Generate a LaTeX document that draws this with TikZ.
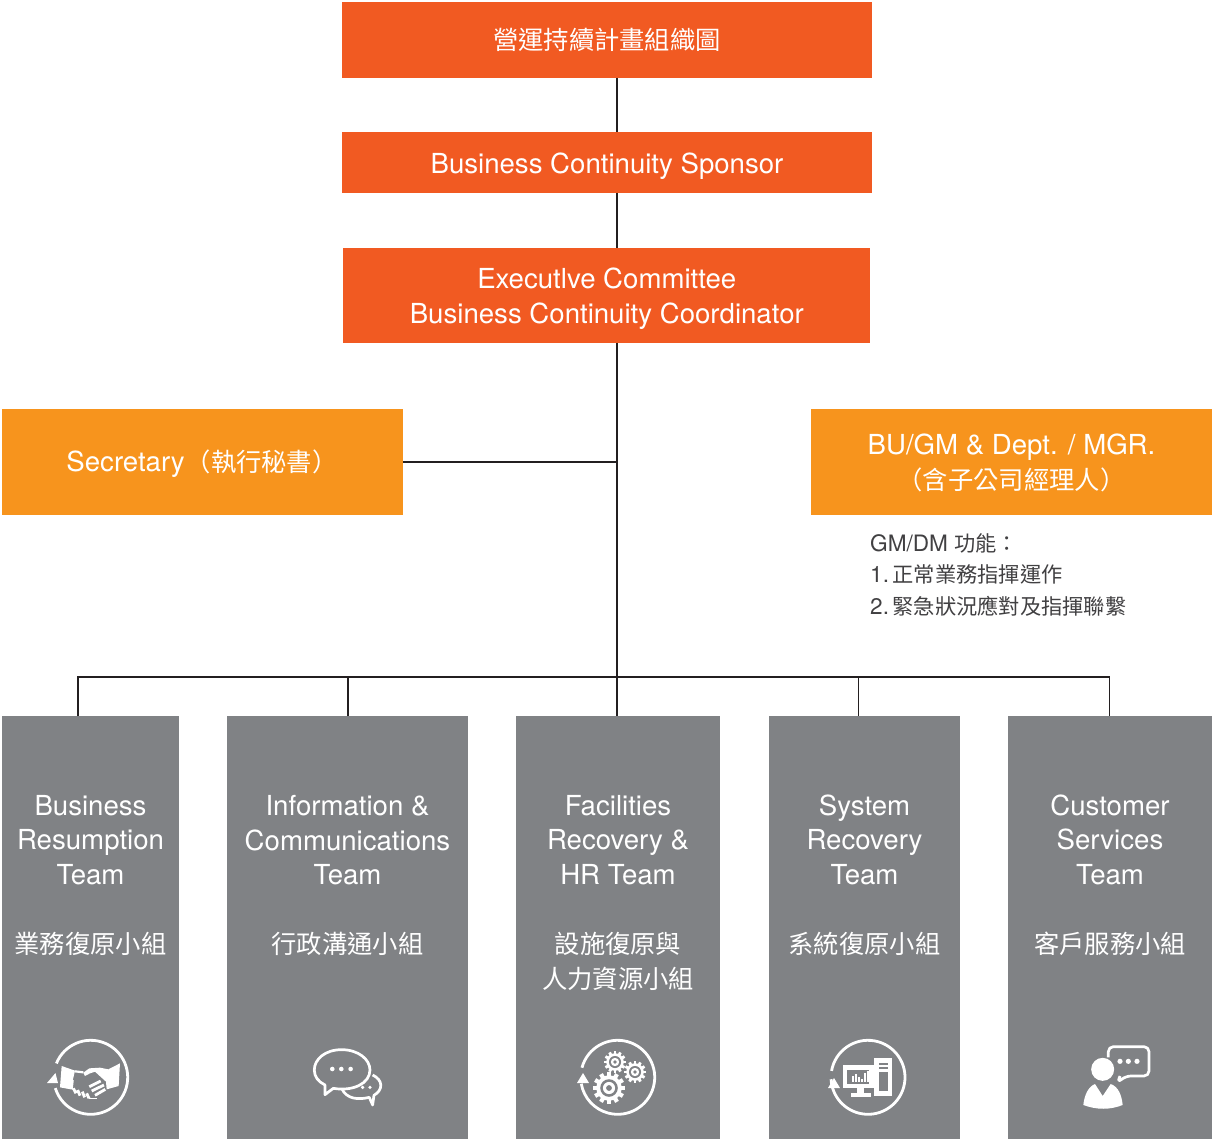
\documentclass[tikz,border=0pt]{standalone}
\usepackage{fontspec}
\setmainfont{TeX Gyre Heros}
\newfontfamily\cjk[Scale=0.917]{Noto Sans CJK TC}
\newfontfamily\cjknote[Scale=0.94]{Noto Sans CJK TC}
\usetikzlibrary{calc}
\definecolor{redorange}{HTML}{F15A22}
\definecolor{amberbox}{HTML}{F7941D}
\definecolor{teamgrey}{HTML}{808285}
\definecolor{notedark}{HTML}{414042}
\definecolor{wire}{HTML}{231F20}
\tikzset{
  headbox/.style={rectangle,inner sep=0pt,outer sep=0pt,fill=redorange},
  sidebox/.style={rectangle,inner sep=0pt,outer sep=0pt,fill=amberbox},
  boxtext/.style={inner sep=0pt,text=white,align=center,font=\fontsize{27.6}{35}\selectfont},
  teambox/.style={rectangle,inner sep=0pt,outer sep=0pt,fill=teamgrey},
  teamtext/.style={anchor=north,inner sep=0pt,text=white,align=center,font=\fontsize{27.6}{34.6}\selectfont},
  wireline/.style={draw=wire,line width=1.2pt},
  iconline/.style={draw=white,line width=2.8pt},
  thinwhite/.style={draw=white,line width=2.7pt,line join=round},
}
\newcommand{\ringic}[4]{\draw[iconline] ([shift={(#3:37pt)}]#1,#2) arc[start angle=#3,end angle=#4,radius=37pt];}
\newcommand{\gearic}[3]{%
  \foreach \a in {0,30,...,330}{\fill[white,shift={(#1,#2)},rotate=\a] (-.13*#3,-.13*#3) rectangle (#3,.13*#3);}
  \fill[white] (#1,#2) circle ({.8*#3 pt});
  \fill[teamgrey] (#1,#2) circle ({.55*#3 pt});
  \fill[white] (#1,#2) circle ({.38*#3 pt});
  \fill[teamgrey] (#1,#2) circle ({.18*#3 pt});
}
\begin{document}
\begin{tikzpicture}[x=1pt,y=-1pt]
\useasboundingbox (0,0) rectangle (1212,1139);
\coordinate (trunkx) at (617,0);
% head boxes
\node[headbox,minimum width=530pt,minimum height=76pt] (title) at (607,40) {};
\node[boxtext] (titletext) at (607,40) {{\cjk 營運持續計畫組織圖}};
\node[headbox,minimum width=530pt,minimum height=61pt] (sponsor) at (607,162.5) {};
\node[boxtext] (sponsortext) at (607,166.5) {Business Continuity Sponsor};
\node[headbox,minimum width=527pt,minimum height=95pt] (exec) at (606.5,295.5) {};
\node[boxtext] (exectext) at (606.8,299) {Executlve Committee\\Business Continuity Coordinator};
% side boxes
\node[sidebox,minimum width=401pt,minimum height=106pt] (secretary) at (202.5,462) {};
\node[boxtext] (secretarytext) at (202,463.5) {Secretary\hspace{1pt}{\cjk （執行秘書）}};
\node[sidebox,minimum width=401pt,minimum height=106pt] (bugm) at (1011.5,462) {};
\node[boxtext] (bugmtext) at (1011.5,462.5) {BU/GM \& Dept. / MGR.\\{\cjk （含子公司經理人）}};
\node[anchor=north west,inner sep=0pt,text=notedark,align=left,font=\fontsize{22.6}{31.5}\selectfont] (note) at (870,533) {GM/DM {\cjknote 功能：}\\1.\hspace{3.5pt}{\cjknote 正常業務指揮運作}\\2.\hspace{3.5pt}{\cjknote 緊急狀況應對及指揮聯繫}};
% team boxes
\node[teambox,minimum width=177pt,minimum height=423pt] (team1) at (90.5,927.5) {};
\node[teambox,minimum width=241pt,minimum height=423pt] (team2) at (347.5,927.5) {};
\node[teambox,minimum width=204pt,minimum height=423pt] (team3) at (618,927.5) {};
\node[teambox,minimum width=191pt,minimum height=423pt] (team4) at (864.5,927.5) {};
\node[teambox,minimum width=204pt,minimum height=423pt] (team5) at (1110,927.5) {};
\node[teamtext] (text1) at (90.5,795) {Business\\Resumption\\Team\\[34.6pt]{\cjk 業務復原小組}};
\node[teamtext] (text2) at (347.5,795) {Information \&\\Communications\\Team\\[34.6pt]{\cjk 行政溝通小組}};
\node[teamtext] (text3) at (618,795) {Facilities\\Recovery \&\\HR Team\\[34.6pt]{\cjk 設施復原與}\\{\cjk 人力資源小組}};
\node[teamtext] (text4) at (864.5,794.4) {System\\Recovery\\Team\\[34.6pt]{\cjk 系統復原小組}};
\node[teamtext] (text5) at (1110,794.4) {Customer\\Services\\Team\\[34.6pt]{\cjk 客戶服務小組}};
% connectors
\coordinate (busy) at (0,677);
\draw[wireline] (title.south -| trunkx) -- (sponsor.north -| trunkx);
\draw[wireline] (sponsor.south -| trunkx) -- (exec.north -| trunkx);
\draw[wireline] (exec.south -| trunkx) -- (team3.north -| trunkx);
\draw[wireline] (secretary.east) -- (secretary.east -| trunkx);
\coordinate (drop1) at (78,0);
\coordinate (drop2) at (348,0);
\coordinate (drop4) at (858.5,0);
\coordinate (drop5) at (1109.5,0);
\draw[wireline] (team1.north -| drop1) -- (busy -| drop1) -- (busy -| drop5) -- (team5.north -| drop5);
\draw[wireline] (team2.north -| drop2) -- (busy -| drop2);
\draw[wireline] (team4.north -| drop4) -- (busy -| drop4);
% icon 1: handshake
\ringic{90.7}{1077.3}{158}{-163}
\fill[white] (47,1083) -- (58,1083) -- (55.5,1073) -- cycle;
\begin{scope}[shift={(40,1030)},x=.3333pt,y=-.3333pt]
\fill[white] (65,108) -- (105,122) -- (92,178) -- (60,172) -- cycle;
\fill[white] (130,128) -- (148,115) -- (180,113) -- (205,118) -- (240,100) -- (236,168) -- (200,178) -- (198,155) -- (165,125) -- (150,130) -- (135,138) -- cycle;
\draw[white,line width=2.2pt] (105,124) -- (130,127);
\draw[white,line width=2.2pt] (98,150) -- (95,178);
\draw[white,line width=2.8pt] (148,170) -- (182,153) (155,183) -- (192,165) (165,196) -- (196,178);
\draw[white,line width=2.8pt] (100,175) -- (108,190) (113,180) -- (120,197) (127,185) -- (134,202) (140,190) -- (147,205);
\draw[white,line width=1.6pt] (147,205) -- (170,205);
\end{scope}
% icon 2: speech bubbles
\begin{scope}[shift={(0,1020)},x=.3333pt,y=-.3333pt]
\draw[thinwhite] (1025,205) .. controls (1040,238) and (1075,240) .. (1108,232) -- (1118,255) -- (1122,226) .. controls (1150,210) and (1150,180) .. (1118,165);
\draw[thinwhite,fill=teamgrey] (1025,89) .. controls (975,89) and (943,118) .. (943,150) .. controls (943,170) and (955,185) .. (975,195) -- (975,224) -- (1000,205) .. controls (1060,215) and (1110,190) .. (1110,150) .. controls (1110,118) and (1075,89) .. (1025,89) -- cycle;
\foreach \p in {997,1024,1052}{\fill[white] (\p,147) circle (2.3pt);}
\foreach \p in {1088,1110}{\fill[white] (\p,202) circle (1.8pt);}
\end{scope}
% icon 3: gears
\ringic{617.7}{1077.3}{165}{-170}
\fill[white] (577,1083) -- (589,1083) -- (583,1073) -- cycle;
\gearic{609}{1088}{16}
\gearic{615}{1062}{11}
\gearic{635}{1072}{11}
% icon 4: computer
\ringic{868}{1077.3}{170}{-177}
\fill[white] (828,1088) -- (840,1088) -- (834,1078) -- cycle;
\begin{scope}[shift={(540,1020)},x=.3333pt,y=-.3333pt]
\fill[teamgrey] (995,105) rectangle (1064,236);
\fill[white] (908,135) rectangle (1001,205);
\fill[teamgrey] (922,149) rectangle (988,192);
\fill[white] (952,205) rectangle (972,218);
\fill[white] (932,218) rectangle (992,230);
\fill[white] (1003,113) rectangle (1056,229);
\fill[teamgrey] (1016,128) rectangle (1044,134);
\fill[teamgrey] (1016,142) rectangle (1044,148);
\fill[teamgrey] (1016,156) rectangle (1044,214);
\foreach \p/\q in {936/168,945/163,954/172,963/176,972/158,981/152}{\fill[white] (\p,\q) rectangle (\p+5,186);}
\end{scope}
% icon 5: person
\begin{scope}[shift={(1040,1020)},x=.3333pt,y=-.3333pt]
\fill[white] (188,148) circle (11.5pt);
\fill[white] (130,255) .. controls (133,225) and (145,200) .. (165,192) -- (188,228) -- (212,192) .. controls (235,200) and (245,225) .. (248,255) .. controls (210,270) and (170,270) .. (130,255) -- cycle;
\draw[thinwhite,rounded corners=5pt] (205,112) -- (205,80) -- (327,80) -- (327,168) -- (258,168) -- (232,188) -- (240,168);
\foreach \p in {240,265,291}{\fill[white] (\p,124) circle (2.6pt);}
\end{scope}
\end{tikzpicture}
\end{document}
